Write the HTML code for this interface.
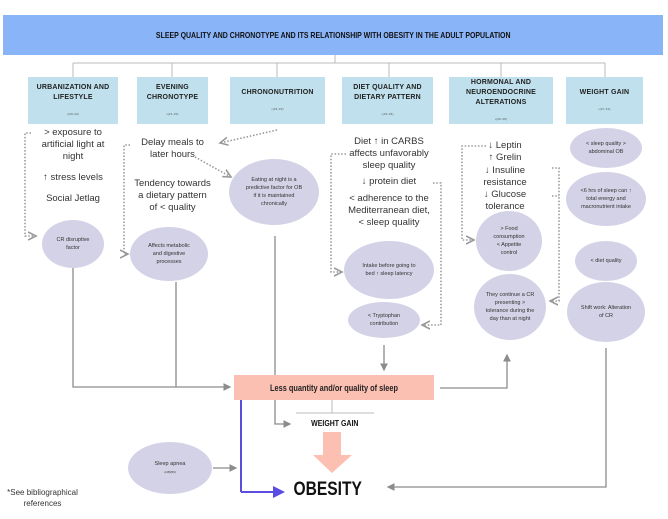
<!DOCTYPE html>
<html><head><meta charset="utf-8"><style>
body{margin:0;width:668px;height:519px;background:#fff;position:relative;overflow:hidden;font-family:"Liberation Sans",sans-serif;}
.a{position:absolute;}
.hb{position:absolute;background:#bfe0ec;display:flex;flex-direction:column;align-items:center;justify-content:center;text-align:center;font-family:"Liberation Sans",sans-serif;font-weight:bold;font-size:7px;line-height:10px;color:#222;letter-spacing:.2px}
.hb small{font-size:3px;color:#555;margin-top:6px;font-weight:normal}
.t{position:absolute;text-align:center;font-size:9.5px;line-height:12px;color:#333;}
.e{position:absolute;background:#d4d2e6;border-radius:50%;display:flex;align-items:center;justify-content:center;text-align:center;font-size:5.5px;line-height:8px;color:#333;}
.n{display:inline-block;transform:scaleX(.82);white-space:nowrap}
</style></head><body>
<svg class="a" style="left:0;top:0" width="668" height="519">
<defs>
<marker id="ag" markerWidth="6" markerHeight="6" refX="5" refY="3" orient="auto"><path d="M0,0L6,3L0,6z" fill="#8c8c8c"/></marker>
<marker id="ad" markerWidth="6" markerHeight="6" refX="5" refY="3" orient="auto"><path d="M0,0.5L5,3L0,5.5" fill="none" stroke="#999" stroke-width="1"/></marker>
<marker id="ab" markerWidth="6" markerHeight="6" refX="5" refY="3" orient="auto"><path d="M0,0L6,3L0,6z" fill="#5b4de0"/></marker>
</defs>
<g stroke="#bbb" stroke-width="1" fill="none">
<path d="M335,55V63M73,63H605M73,63V77M172,63V77M277,63V77M389,63V77M501,63V77M605,63V77"/>
</g>
<g stroke="#999" stroke-width="1.6" stroke-dasharray="1.5,1.8" fill="none">
<path d="M31,133H25V236H36" marker-end="url(#ad)"/>
<path d="M130,145H124V254H128" marker-end="url(#ad)"/>
<path d="M277,130L220,143" marker-end="url(#ad)"/>
<path d="M195,157L231,177" marker-end="url(#ad)"/>
<path d="M346,154H331V272H342" marker-end="url(#ad)"/>
<path d="M433,183H441V325H422" marker-end="url(#ad)"/>
<path d="M486,146H462V240H474" marker-end="url(#ad)"/>
<path d="M552,168H559V301H550" marker-end="url(#ad)"/>
<path d="M552,196H559"/>
</g>
<g stroke="#8c8c8c" stroke-width="1.3" fill="none">
<path d="M73,268V387H230" marker-end="url(#ag)"/>
<path d="M176,282V387"/>
<path d="M275,236V424H290" marker-end="url(#ag)"/>
<path d="M384,345V370" marker-end="url(#ag)"/>
<path d="M440,388H507V355" marker-end="url(#ag)"/>
<path d="M606,348V487H388" marker-end="url(#ag)"/>
<path d="M213,468H236" marker-end="url(#ag)"/>
</g>
<path d="M332,400V413M296,413H374" stroke="#bbb" stroke-width="1" fill="none"/>
<path d="M241,492V392M241,492H283" stroke="#5b4de0" stroke-width="2" fill="none" marker-end="url(#ab)"/>
<path d="M241,390l-4,8h8z" fill="#5b4de0"/>
<path d="M323,432H341V455H352L332,473L313,455H323Z" fill="#fcc0b3"/>
</svg>
<div class="a" style="left:3px;top:15px;width:660px;height:40px;background:#8ab4f8;display:flex;align-items:center;justify-content:center;font-weight:bold;font-size:8.5px;color:#111"><span class="n">SLEEP QUALITY AND CHRONOTYPE AND ITS RELATIONSHIP WITH OBESITY IN THE ADULT POPULATION</span></div>
<div class="hb" style="left:28px;top:77px;width:90px;height:47px">URBANIZATION AND<br>LIFESTYLE<small>•(29-32)</small></div>
<div class="hb" style="left:137px;top:77px;width:71px;height:47px">EVENING<br>CHRONOTYPE<small>•(21-25)</small></div>
<div class="hb" style="left:230px;top:77px;width:95px;height:47px">CHRONONUTRITION<small>•(26-33)</small></div>
<div class="hb" style="left:342px;top:77px;width:91px;height:47px">DIET QUALITY AND<br>DIETARY PATTERN<small>•(33-36)</small></div>
<div class="hb" style="left:449px;top:77px;width:104px;height:47px">HORMONAL AND<br>NEUROENDOCRINE<br>ALTERATIONS<small>•(36-39)</small></div>
<div class="hb" style="left:566px;top:77px;width:77px;height:47px">WEIGHT GAIN<small>•(37-42)</small></div>

<div class="t" style="left:28px;top:127px;width:90px">&gt; exposure to<br>artificial light at<br>night</div>
<div class="t" style="left:28px;top:172px;width:90px">↑ stress levels</div>
<div class="t" style="left:28px;top:193px;width:90px">Social Jetlag</div>
<div class="t" style="left:125px;top:137px;width:95px">Delay meals to<br>later hours</div>
<div class="t" style="left:125px;top:178px;width:95px">Tendency towards<br>a dietary pattern<br>of &lt; quality</div>
<div class="t" style="left:336px;top:136px;width:106px">Diet ↑ in CARBS<br>affects unfavorably<br>sleep quality</div>
<div class="t" style="left:336px;top:176px;width:106px">↓ protein diet</div>
<div class="t" style="left:336px;top:193px;width:106px">&lt; adherence to the<br>Mediterranean diet,<br>&lt; sleep quality</div>
<div class="t" style="left:460px;top:140px;width:90px">↓ Leptin<br>↑ Grelin</div>
<div class="t" style="left:460px;top:165px;width:90px">↓ Insuline<br>resistance<br>↓ Glucose<br>tolerance</div>

<div class="e" style="left:42px;top:220px;width:62px;height:48px">CR disruptive<br>factor</div>
<div class="e" style="left:130px;top:227px;width:78px;height:54px">Affects metabolic<br>and digestive<br>processes</div>
<div class="e" style="left:229px;top:159px;width:90px;height:66px">Eating at night is a<br>predictive factor for OB<br>if it is maintained<br>chronically</div>
<div class="e" style="left:344px;top:241px;width:90px;height:58px">Intake before going to<br>bed ↑ sleep latency</div>
<div class="e" style="left:348px;top:302px;width:72px;height:36px">&lt; Tryptophan<br>contribution</div>
<div class="e" style="left:476px;top:211px;width:66px;height:60px">&gt; Food<br>consumption<br>&lt; Appetite<br>control</div>
<div class="e" style="left:474px;top:274px;width:72px;height:66px">They continue a CR<br>presenting &gt;<br>tolerance during the<br>day than at night</div>
<div class="e" style="left:570px;top:128px;width:72px;height:40px">&lt; sleep quality &gt;<br>abdominal OB</div>
<div class="e" style="left:566px;top:172px;width:80px;height:54px">&lt;6 hrs of sleep can ↑<br>total energy and<br>macronutrient intake</div>
<div class="e" style="left:575px;top:241px;width:62px;height:40px">&lt; diet quality</div>
<div class="e" style="left:567px;top:282px;width:78px;height:60px">Shift work: Alteration<br>of CR</div>
<div class="e" style="left:128px;top:442px;width:84px;height:52px;flex-direction:column">Sleep apnea<span style="font-size:3px">•(48)(50)</span></div>

<div class="a" style="left:234px;top:375px;width:200px;height:25px;background:#fcc0b3;display:flex;align-items:center;justify-content:center;font-weight:bold;font-size:9px;color:#222"><span class="n">Less quantity and/or quality of sleep</span></div>
<div class="a" style="left:296px;top:418px;width:78px;text-align:center;font-weight:bold;font-size:8.5px;color:#111"><span class="n">WEIGHT GAIN</span></div>
<div class="a" style="left:280px;top:479px;width:96px;text-align:center;font-weight:bold;font-size:19px;color:#111"><span class="n">OBESITY</span></div>
<div class="a" style="left:5px;top:487px;width:75px;text-align:center;font-size:8px;line-height:11px;color:#333">*See bibliographical<br>references</div>
</body></html>
